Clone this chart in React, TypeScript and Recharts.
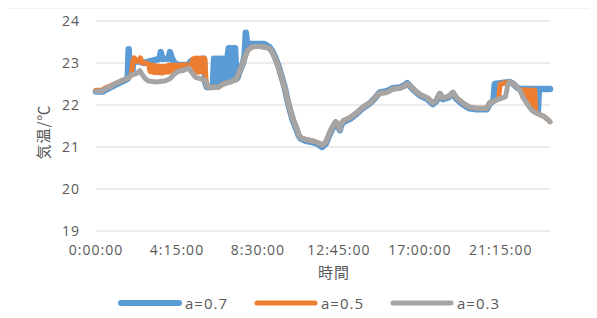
import { LineChart, Line, XAxis, YAxis, CartesianGrid, Legend } from "recharts";

// minutes since 0:00, temperature
const a07: [number, number][] = [
  [0, 22.32], [22, 22.32], [30, 22.36], [45, 22.42], [58, 22.47], [72, 22.52], [88, 22.58],
  [100, 22.63], [103, 23.33], [106, 22.75], [114, 22.75], [117, 23.02], [130, 23.05],
  [150, 23.0], [200, 23.1], [204, 23.26], [208, 23.1], [229, 23.1], [233, 23.26], [237, 23.15],
  [245, 23.02], [258, 22.95], [290, 22.95], [300, 23.05], [340, 23.1], [344, 22.55],
  [349, 22.43], [368, 22.43], [372, 23.1], [376, 22.5], [379, 23.1], [383, 22.5], [386, 23.1],
  [390, 22.5], [393, 23.1], [397, 22.52], [400, 23.1], [404, 22.52], [407, 23.1], [411, 22.55],
  [414, 23.12], [418, 23.35], [421, 22.58], [424, 23.35], [428, 22.6], [431, 23.35],
  [435, 22.6], [438, 23.35], [442, 22.62], [446, 22.66], [452, 22.8], [462, 22.98],
  [468, 23.15], [472, 23.72], [476, 23.45], [490, 23.45], [530, 23.45], [546, 23.38],
  [556, 23.27], [565, 23.12], [575, 22.92], [585, 22.66], [595, 22.4], [604, 22.08],
  [613, 21.82], [621, 21.62], [630, 21.45], [638, 21.28], [645, 21.2], [660, 21.15],
  [680, 21.12], [700, 21.07], [712, 21.0], [724, 21.08], [734, 21.27], [743, 21.42],
  [755, 21.58], [762, 21.52], [768, 21.4], [772, 21.52], [780, 21.6], [800, 21.67],
  [822, 21.8], [841, 21.93], [863, 22.04], [878, 22.16], [894, 22.3], [916, 22.33],
  [935, 22.4], [957, 22.42], [972, 22.47], [980, 22.52], [990, 22.44], [1000, 22.36],
  [1020, 22.23], [1042, 22.15], [1061, 22.02], [1070, 22.08], [1076, 22.15], [1083, 22.26],
  [1092, 22.14], [1110, 22.18], [1124, 22.28], [1136, 22.14], [1155, 22.02], [1177, 21.92],
  [1199, 21.9], [1231, 21.9], [1240, 22.03], [1252, 22.1], [1256, 22.5], [1303, 22.55],
  [1315, 22.5], [1325, 22.42], [1335, 22.38], [1390, 22.38], [1392, 21.86], [1395, 22.38],
  [1430, 22.38],
];

const a05: [number, number][] = [
  [0, 22.35], [20, 22.35], [28, 22.4], [45, 22.45], [58, 22.5], [72, 22.55], [88, 22.6],
  [103, 22.65], [112, 22.72], [116, 23.05], [121, 23.12], [127, 23.04], [134, 23.04],
  [140, 23.12], [146, 23.0], [156, 23.0], [166, 22.98], [170, 22.8], [174, 22.95],
  [178, 22.78], [182, 22.95], [186, 22.77], [190, 22.93], [194, 22.77], [198, 22.93],
  [202, 22.76], [206, 22.92], [210, 22.76], [214, 22.92], [218, 22.78], [222, 22.93],
  [226, 22.78], [230, 22.95], [234, 22.8], [238, 22.95], [242, 22.8], [246, 22.95],
  [250, 22.82], [254, 22.95], [258, 22.85], [265, 22.95], [300, 22.95], [306, 23.1],
  [310, 22.8], [314, 23.12], [318, 22.78], [322, 23.12], [326, 22.78], [330, 23.12],
  [334, 22.8], [338, 23.12], [343, 23.1], [346, 22.6], [349, 22.45], [362, 22.42],
  [385, 22.42], [400, 22.5], [425, 22.55], [442, 22.62], [452, 22.8], [462, 22.98],
  [470, 23.15], [478, 23.3], [490, 23.38], [508, 23.4], [528, 23.38], [546, 23.35],
  [556, 23.25], [565, 23.1], [575, 22.9], [585, 22.65], [595, 22.4], [604, 22.1],
  [613, 21.85], [621, 21.65], [630, 21.5], [638, 21.3], [645, 21.22], [660, 21.18],
  [680, 21.15], [700, 21.1], [712, 21.05], [724, 21.12], [734, 21.3], [743, 21.45],
  [755, 21.6], [762, 21.55], [768, 21.42], [772, 21.55], [780, 21.63], [800, 21.7],
  [822, 21.82], [841, 21.95], [863, 22.05], [878, 22.17], [894, 22.28], [916, 22.3],
  [935, 22.38], [957, 22.4], [972, 22.45], [980, 22.5], [990, 22.45], [1000, 22.38],
  [1020, 22.25], [1042, 22.18], [1061, 22.05], [1070, 22.1], [1076, 22.17], [1083, 22.28],
  [1092, 22.17], [1110, 22.2], [1124, 22.3], [1136, 22.17], [1155, 22.05], [1177, 21.95],
  [1199, 21.92], [1231, 21.92], [1240, 22.05], [1262, 22.12], [1268, 22.15], [1273, 22.5],
  [1303, 22.55], [1315, 22.5], [1325, 22.43], [1335, 22.36], [1340, 22.36], [1344, 22.2],
  [1347, 22.36], [1351, 22.12], [1354, 22.36], [1358, 22.03], [1361, 22.36], [1365, 21.98],
  [1368, 22.36], [1372, 21.9], [1375, 22.36], [1379, 21.86], [1382, 22.36], [1385, 21.83],
  [1398, 21.77], [1413, 21.72], [1425, 21.64], [1430, 21.6],
];

const a03: [number, number][] = [
  [0, 22.33], [20, 22.33], [28, 22.38], [45, 22.43], [58, 22.5], [72, 22.55], [88, 22.6],
  [103, 22.65], [114, 22.72], [128, 22.75], [138, 22.82], [146, 22.72], [156, 22.62],
  [166, 22.57], [190, 22.55], [215, 22.57], [232, 22.62], [244, 22.72], [258, 22.8],
  [275, 22.82], [292, 22.88], [303, 22.76], [314, 22.66], [330, 22.62], [343, 22.6],
  [349, 22.45], [362, 22.42], [385, 22.42], [400, 22.5], [425, 22.55], [442, 22.62],
  [452, 22.8], [462, 22.98], [470, 23.15], [478, 23.3], [490, 23.38], [508, 23.4],
  [528, 23.38], [546, 23.35], [556, 23.25], [565, 23.1], [575, 22.9], [585, 22.65],
  [595, 22.4], [604, 22.1], [613, 21.85], [621, 21.65], [630, 21.5], [638, 21.3],
  [645, 21.22], [660, 21.18], [680, 21.15], [700, 21.1], [712, 21.05], [724, 21.12],
  [734, 21.3], [743, 21.45], [755, 21.6], [762, 21.55], [768, 21.42], [772, 21.55],
  [780, 21.63], [800, 21.7], [822, 21.82], [841, 21.95], [863, 22.05], [878, 22.17],
  [894, 22.28], [916, 22.3], [935, 22.38], [957, 22.4], [972, 22.45], [980, 22.5],
  [990, 22.45], [1000, 22.38], [1020, 22.25], [1042, 22.18], [1061, 22.05], [1070, 22.1],
  [1076, 22.17], [1083, 22.28], [1092, 22.17], [1110, 22.2], [1124, 22.3], [1136, 22.17],
  [1155, 22.05], [1177, 21.95], [1199, 21.92], [1231, 21.92], [1240, 22.05], [1262, 22.12],
  [1281, 22.17], [1290, 22.2], [1297, 22.48], [1303, 22.55], [1315, 22.5], [1325, 22.43],
  [1335, 22.35], [1344, 22.2], [1352, 22.1], [1362, 21.98], [1372, 21.88], [1382, 21.82],
  [1398, 21.77], [1413, 21.72], [1425, 21.64], [1430, 21.6],
];

const xTicks = [0, 255, 510, 765, 1020, 1275];
const yTicks = [19, 20, 21, 22, 23, 24];

const series = [
  { name: "a=0.7", color: "#5b9bd5", width: 6.5, points: a07 },
  { name: "a=0.5", color: "#ed7d31", width: 5, points: a05 },
  { name: "a=0.3", color: "#a5a5a5", width: 5, points: a03 },
];

const textColor = "#595959";
const numFont = "'Open Sans', sans-serif";
const jpFont = "'Noto Sans CJK JP', sans-serif";

const fmtTime = (m: number) =>
  `${Math.floor(m / 60)}:${String(m % 60).padStart(2, "0")}:00`;

function renderLegend() {
  return (
    <div
      style={{
        display: "flex",
        alignItems: "center",
        paddingLeft: 114,
        height: 22,
        fontFamily: numFont,
        fontSize: 15,
        color: textColor,
      }}
    >
      {series.map((s, i) => (
        <div key={s.name} style={{ display: "flex", alignItems: "center", marginRight: 22 }}>
          <svg width={71} height={12}>
            <line
              x1={7}
              x2={65}
              y1={6}
              y2={6}
              stroke={s.color}
              strokeWidth={i === 0 ? 6 : 5}
              strokeLinecap="round"
            />
          </svg>
          <span style={{ letterSpacing: 1 }}>{s.name}</span>
        </div>
      ))}
    </div>
  );
}

export default function App() {
  return (
    <div
      style={{
        position: "relative",
        width: 597,
        height: 318,
        margin: -8,
        overflow: "hidden",
        background: "#fff",
      }}
    >
      <div
        style={{
          position: "absolute",
          left: 108,
          top: -14,
          fontFamily: numFont,
          fontSize: 16,
          color: textColor,
        }}
      >
        (a)
      </div>
      <div style={{ position: "absolute", left: 0, top: 0 }}>
        <LineChart width={597} height={318} margin={{ top: 21, right: 47, bottom: 47, left: 0 }}>
          <CartesianGrid vertical={false} stroke="#d9d9d9" strokeWidth={1.2} />
          <XAxis
            type="number"
            dataKey="t"
            domain={[0, 1430]}
            ticks={xTicks}
            tickFormatter={fmtTime}
            axisLine={false}
            tickLine={false}
            tickMargin={8}
            height={40}
            tick={{ fill: textColor, fontFamily: numFont, fontSize: 14, letterSpacing: 1 }}
            label={{
              content: (p: any) => {
                const vb = p.viewBox;
                return (
                  <text
                    x={vb.x + vb.width / 2 + 11}
                    y={vb.y + 47}
                    textAnchor="middle"
                    fill={textColor}
                    fontFamily={jpFont}
                    fontSize={15}
                    letterSpacing={1}
                  >
                    時間
                  </text>
                );
              },
            }}
          />
          <YAxis
            type="number"
            domain={[19, 24]}
            ticks={yTicks}
            width={96}
            axisLine={false}
            tickLine={false}
            tickMargin={10}
            tick={{ fill: textColor, fontFamily: numFont, fontSize: 14, letterSpacing: 1 }}
            label={{
              content: (p: any) => {
                const vb = p.viewBox;
                const cx = vb.x + 42;
                const cy = vb.y + vb.height / 2 + 6;
                return (
                  <text
                    x={cx}
                    y={cy}
                    transform={`rotate(-90 ${cx} ${cy})`}
                    textAnchor="middle"
                    dominantBaseline="central"
                    fill={textColor}
                    fontFamily={jpFont}
                    fontSize={15}
                    letterSpacing={1}
                  >
                    気温/℃
                  </text>
                );
              },
            }}
          />
          {series.map((s) => (
            <Line
              key={s.name}
              name={s.name}
              data={s.points.map(([t, v]) => ({ t, v }))}
              dataKey="v"
              type="linear"
              stroke={s.color}
              strokeWidth={s.width}
              strokeLinejoin="round"
              strokeLinecap="round"
              dot={false}
              activeDot={false}
              isAnimationActive={false}
            />
          ))}
          <Legend
            verticalAlign="middle"
            align="center"
            layout="horizontal"
            wrapperStyle={{ top: 292, left: 0, width: 597, height: 22 }}
            content={renderLegend}
          />
        </LineChart>
      </div>
      {/* outer chart frame, extends past the visible area */}
      <svg
        style={{ position: "absolute", left: 0, top: 0, pointerEvents: "none" }}
        width={597}
        height={318}
      >
        <path d="M 6.5 318 L 6.5 7.5 L 597 7.5" stroke="#d0d0d0" strokeWidth={1.3} fill="none" />
      </svg>
    </div>
  );
}
